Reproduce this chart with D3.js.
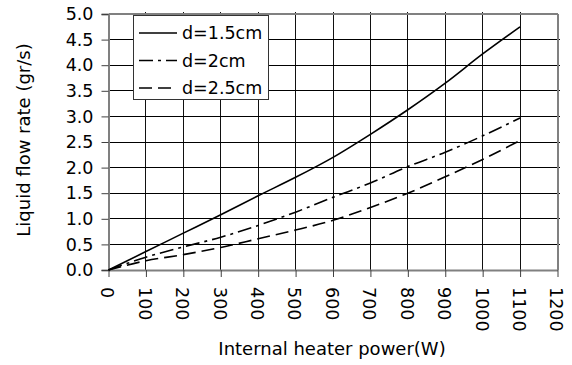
<!DOCTYPE html>
<html><head><meta charset="utf-8">
<script src="https://cdn.jsdelivr.net/npm/d3@7/dist/d3.min.js"></script>
<style>body{margin:0;background:#fff}svg{display:block}text{font-family:"DejaVu Sans",Verdana,sans-serif;fill:#000}</style>
</head><body><svg id="c" width="572" height="365"></svg>
<script>
const powers = [0,100,200,300,400,500,600,700,800,900,1000,1100];
const flowD15 = [0,0.36,0.72,1.08,1.45,1.81,2.20,2.65,3.13,3.65,4.22,4.75];
const flowD20 = [0,0.25,0.45,0.64,0.87,1.13,1.42,1.70,2.02,2.30,2.62,2.97];
const flowD25 = [0,0.18,0.30,0.44,0.61,0.78,0.97,1.22,1.50,1.82,2.16,2.53];
const seriesNames = ["d=1.5cm","d=2cm","d=2.5cm"];
const xTicks = [0,100,200,300,400,500,600,700,800,900,1000,1100,1200];
const yTicks = [0,0.5,1,1.5,2,2.5,3,3.5,4,4.5,5];

const svg = d3.select("#c");
const L=108.5, R=557.5, T=14, B=270;
const x = d3.scaleLinear().domain([0,1200]).range([L,R]);
const y = d3.scaleLinear().domain([0,5]).range([B,T]);

// grid
const g = svg.append("g").attr("shape-rendering","crispEdges");
g.selectAll(".vg").data(xTicks.slice(1,-1)).join("line")
  .attr("x1",d=>x(d)).attr("x2",d=>x(d)).attr("y1",T-2).attr("y2",B)
  .attr("stroke","#111").attr("stroke-width",1);
g.selectAll(".hg").data(yTicks.slice(1,-1)).join("line")
  .attr("x1",L).attr("x2",R+2).attr("y1",d=>y(d)).attr("y2",d=>y(d))
  .attr("stroke","#000").attr("stroke-width",1);
g.append("line").attr("x1",L).attr("x2",R).attr("y1",T).attr("y2",T).attr("stroke","#808080").attr("stroke-width",2);
g.append("line").attr("x1",R).attr("x2",R).attr("y1",T).attr("y2",B).attr("stroke","#808080").attr("stroke-width",2);

// axes
const yAxis = d3.axisLeft(y).tickValues(yTicks).tickFormat(d3.format(".1f")).tickSize(7).tickPadding(8);
const ya = svg.append("g").attr("transform",`translate(${L},0)`).call(yAxis);
ya.select(".domain").attr("stroke","#808080").attr("stroke-width",2);
ya.selectAll(".tick line").attr("stroke","#404040");
ya.selectAll("text").attr("font-size","17.5px").attr("font-family","DejaVu Sans").attr("fill","#000");

const xAxis = d3.axisBottom(x).tickValues(xTicks).tickFormat(d3.format("d")).tickSize(7).tickSizeOuter(0);
const xa = svg.append("g").attr("transform",`translate(0,${B})`).call(xAxis);
xa.select(".domain").attr("stroke","#808080").attr("stroke-width",2);
xa.selectAll(".tick line").attr("stroke","#404040");
xa.selectAll("text").attr("font-size","17.5px").attr("font-family","DejaVu Sans").attr("fill","#000")
  .attr("transform","rotate(90)").attr("text-anchor","start")
  .attr("x",17).attr("y",2).attr("dy","0.32em");

// axis titles
svg.append("text").attr("x",332).attr("y",355).attr("text-anchor","middle").attr("font-size","18px").text("Internal heater power(W)");
svg.append("text").attr("transform","translate(30,140) rotate(-90)").attr("text-anchor","middle").attr("font-size","18px").text("Liquid flow rate (gr/s)");

// lines
const styles = [{dash:null,w:1.6},{dash:"14,5,3,5",w:1.6},{dash:"13,6",w:1.6}];
const allSeries = [flowD15, flowD20, flowD25];
const line = d3.line().x((d,i)=>x(powers[i])).y(d=>y(d)).curve(d3.curveMonotoneX);
allSeries.forEach((s,k)=>{
  svg.append("path").attr("d",line(s)).attr("fill","none").attr("stroke","#000")
    .attr("stroke-width",styles[k].w).attr("stroke-dasharray",styles[k].dash);
});

// legend
const lg = svg.append("g");
lg.append("rect").attr("x",133.5).attr("y",15.5).attr("width",135).attr("height",84)
  .attr("fill","#fff").attr("stroke","#333").attr("stroke-width",1);
seriesNames.forEach((n,k)=>{
  const yy = 33 + k*27.5;
  lg.append("line").attr("x1",139).attr("x2",177).attr("y1",yy).attr("y2",yy)
    .attr("stroke","#000").attr("stroke-width",1.6).attr("stroke-dasharray",styles[k].dash);
  lg.append("text").attr("x",182).attr("y",yy).attr("dy","0.36em").attr("font-size","17.5px").text(n);
});
</script></body></html>
